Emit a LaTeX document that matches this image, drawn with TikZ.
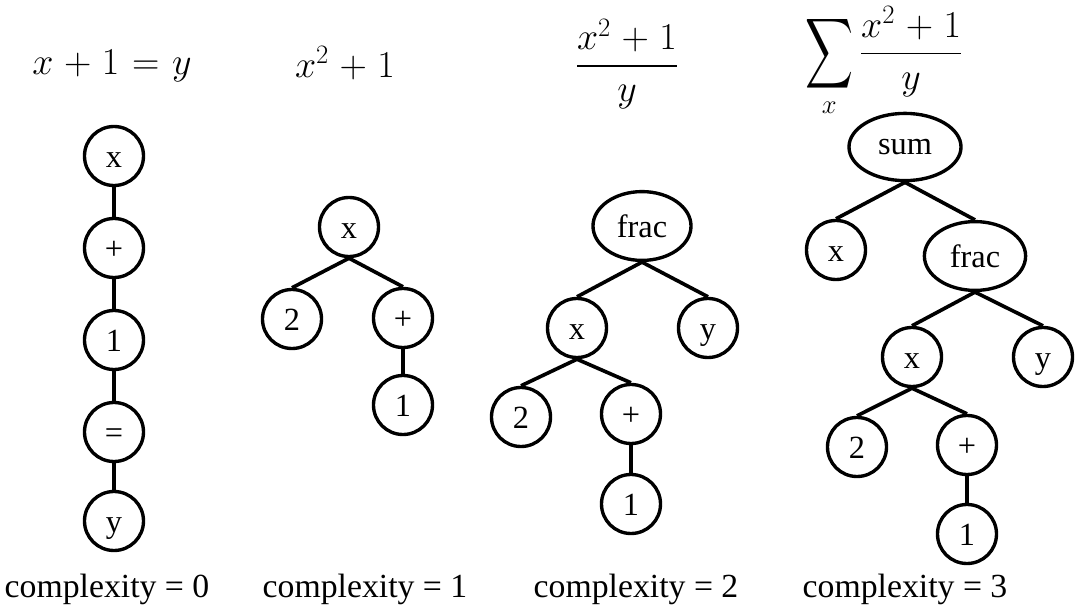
\RequirePackage{fix-cm}
\documentclass[tikz,border=0pt]{standalone}
\usepackage{exscale}
\usepackage{graphicx}
\usepackage{fontspec}
\setmainfont{Liberation Serif}
\usepackage{tikz}
\usetikzlibrary{shapes.geometric}

\begin{document}
\begin{tikzpicture}[
        x=0.025cm,y=-0.025cm,
        leaf/.style={
            draw,
            circle,
            line width=2.4pt,
            minimum size=1.475cm,
            inner sep=0pt,
            text height=17pt,
            text depth=0pt,
            font=\fontsize{23}{27}\selectfont
        },
        fnode/.style={
            draw,
            ellipse,
            line width=2.4pt,
            minimum width=2.45cm,
            minimum height=1.72cm,
            inner sep=0pt,
            font=\fontsize{23}{27}\selectfont
        },
        link/.style={line width=2.6pt},
        formula/.style={inner sep=0pt,font={\fontsize{27}{32}\selectfont\medmuskip=5mu plus 2mu minus 4mu\thickmuskip=6mu plus 5mu}},
        caption/.style={font=\fontsize{24}{28}\selectfont}
    ]
        \useasboundingbox (0,0) rectangle (1080,611);

        \node[formula] (eqa) at (112,66) {$x+1=y$};
        \node[formula] (eqb) at (345,63) {$x^2+1$};
        \node[formula] (eqc) at (627,64) {$\displaystyle\frac{x^2+1}{y}$};
        \node[formula] (eqd) at (884,62) {$\displaystyle\mathop{\vcenter{\hbox{\scalebox{0.95}[1.4]{$\displaystyle\sum$}}}}\limits_{x}\frac{x^2+1}{y}$};

        \node[leaf] (ax) at (114,156) {x};
        \node[leaf] (aplus) at (114,248) {+};
        \node[leaf] (aone) at (114,340) {1};
        \node[leaf] (aeq) at (114,432) {=};
        \node[leaf] (ay) at (114,521) {y};
        \foreach \u/\v in {ax/aplus,aplus/aone,aone/aeq,aeq/ay}
            \draw[link] (\u.south) -- (\v.north);

        \node[leaf] (bx) at (349,227) {x};
        \node[leaf] (btwo) at (292,319) {2};
        \node[leaf] (bplus) at (403,318) {+};
        \node[leaf] (bone) at (403,405) {1};
        \draw[link] (bx.south) -- (btwo.north);
        \draw[link] (bx.south) -- (bplus.north);
        \draw[link] (bplus.south) -- (bone.north);

        \node[fnode] (cfrac) at (642,226) {frac};
        \node[leaf] (cx) at (577,328) {x};
        \node[leaf] (cy) at (708,328) {y};
        \node[leaf] (ctwo) at (521,417) {2};
        \node[leaf] (cplus) at (631,414) {+};
        \node[leaf] (cone) at (631,504) {1};
        \draw[link] (cfrac.south) -- (cx.north);
        \draw[link] (cfrac.south) -- (cy.north);
        \draw[link] (cx.south) -- (ctwo.north);
        \draw[link] (cx.south) -- (cplus.north);
        \draw[link] (cplus.south) -- (cone.north);

        \node[fnode,minimum width=2.8cm,minimum height=1.68cm] (dsum) at (905,147) {sum};
        \node[leaf] (dx) at (836,250) {x};
        \node[fnode,minimum width=2.53cm] (dfrac) at (975,256) {frac};
        \node[leaf] (dxx) at (912,357) {x};
        \node[leaf] (dy) at (1043,357) {y};
        \node[leaf] (dtwo) at (857,447) {2};
        \node[leaf] (dplus) at (967,445) {+};
        \node[leaf] (done) at (967,534) {1};
        \draw[link] (dsum.south) -- (dx.north);
        \draw[link] (dsum.south) -- (dfrac.north);
        \draw[link] (dfrac.south) -- (dxx.north);
        \draw[link] (dfrac.south) -- (dy.north);
        \draw[link] (dxx.south) -- (dtwo.north);
        \draw[link] (dxx.south) -- (dplus.north);
        \draw[link] (dplus.south) -- (done.north);

        \node[caption] (capa) at (107,589) {complexity = 0};
        \node[caption] (capb) at (365,589) {complexity = 1};
        \node[caption] (capc) at (636,589) {complexity = 2};
        \node[caption] (capd) at (905,589) {complexity = 3};
    \end{tikzpicture}
\end{document}
